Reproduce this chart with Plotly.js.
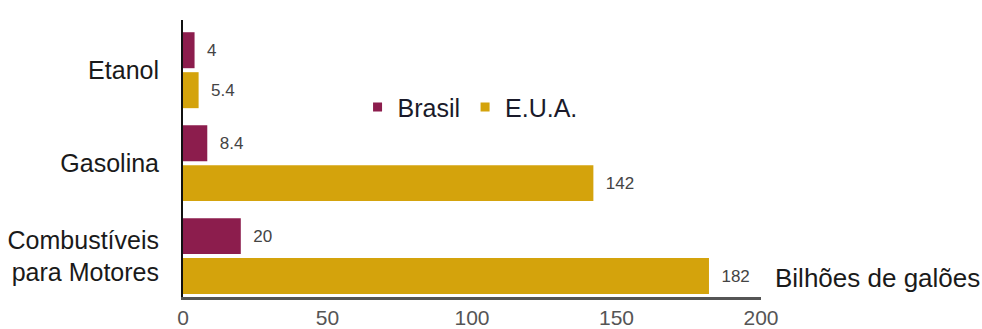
<!DOCTYPE html>
<html>
<head>
<meta charset="utf-8">
<script src="https://cdn.plot.ly/plotly-3.0.1.min.js"></script>
<style>html,body{margin:0;padding:0;background:#fff;}#chart{width:982px;height:329px;}</style>
</head>
<body>
<div id="chart"></div>
<script>
const categories = ["Combustíveis<br>para Motores", "Gasolina", "Etanol"];
const brasilValues = [20, 8.4, 4];
const euaValues = [182, 142, 5.4];
const seriesNames = ["Brasil", "E.U.A."];
const xTicks = [0, 50, 100, 150, 200];
const unitLabel = "Bilhões de galões";

const colBrasil = "#8C1D4D";
const colEua = "#D4A30C";

const labelFont = {family: "Liberation Sans, Arial, sans-serif", size: 17, color: "#444"};

const traces = [
  {
    type: "bar", orientation: "h", name: seriesNames[1],
    y: categories, x: euaValues,
    marker: {color: colEua},
    text: euaValues.map(v => "\u00a0\u00a0" + v),
    textposition: "outside", textfont: labelFont, cliponaxis: false,
    showlegend: false, hoverinfo: "x"
  },
  {
    type: "bar", orientation: "h", name: seriesNames[0],
    y: categories, x: brasilValues,
    marker: {color: colBrasil},
    text: brasilValues.map(v => "\u00a0\u00a0" + v),
    textposition: "outside", textfont: labelFont, cliponaxis: false,
    showlegend: false, hoverinfo: "x"
  },
  {
    type: "scatter", mode: "markers", name: seriesNames[0],
    x: [null], y: [null],
    marker: {symbol: "square", size: 9, color: colBrasil},
    showlegend: true, hoverinfo: "skip"
  },
  {
    type: "scatter", mode: "markers", name: seriesNames[1],
    x: [null], y: [null],
    marker: {symbol: "square", size: 9, color: colEua},
    showlegend: true, hoverinfo: "skip"
  }
];

const layout = {
  width: 982, height: 329,
  margin: {l: 183, r: 221, t: 20, b: 32},
  paper_bgcolor: "#ffffff", plot_bgcolor: "#ffffff",
  font: {family: "Liberation Sans, Arial, sans-serif", color: "#222"},
  barmode: "group", bargap: 0.14, bargroupgap: 0.1,
  showlegend: true,
  legend: {
    orientation: "h", x: 0.302, xanchor: "left", y: 0.685, yanchor: "middle",
    font: {size: 25, color: "#1a1a2a"}, bgcolor: "rgba(0,0,0,0)"
  },
  xaxis: {
    range: [0, 200], tickvals: xTicks, ticktext: xTicks.map(String),
    showgrid: false, zeroline: false, showline: true, linecolor: "#555", linewidth: 3,
    ticks: "", tickfont: {size: 21, color: "#555"}, fixedrange: true
  },
  yaxis: {
    type: "category", range: [-0.44, 2.54],
    showgrid: false, zeroline: false, showline: true, linecolor: "#111", linewidth: 2,
    ticks: "", ticklabelstandoff: 17, tickfont: {size: 25, color: "#1a1a1a"}, fixedrange: true
  },
  annotations: [{
    text: unitLabel, xref: "paper", yref: "paper",
    x: 1.02, y: 0.07, xanchor: "left", yanchor: "middle",
    showarrow: false, font: {size: 26, color: "#1a1a1a"}
  }]
};

Plotly.newPlot("chart", traces, layout, {displayModeBar: false, staticPlot: true});
</script>
</body>
</html>
